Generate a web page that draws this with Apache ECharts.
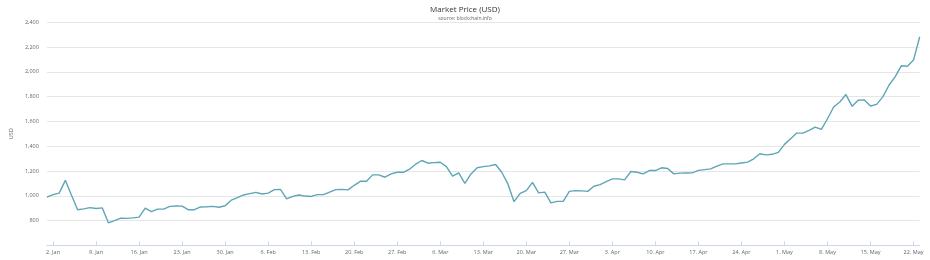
<!DOCTYPE html>
<html>
<head>
<meta charset="utf-8">
<script src="https://cdn.jsdelivr.net/npm/echarts@6/dist/echarts.min.js"></script>
<style>
html,body{margin:0;padding:0;background:#fff;}
#chart{width:930px;height:260px;}
</style>
</head>
<body>
<div id="chart"></div>
<script>
// Daily dates 1 Jan 2017 – 23 May 2017
const startDate = Date.UTC(2017, 0, 1);
const dayCount = 143;
const monthNames = ['Jan','Feb','Mar','Apr','May','Jun','Jul','Aug','Sep','Oct','Nov','Dec'];
const categories = [];
for (let i = 0; i < dayCount; i++) {
  const d = new Date(startDate + i * 86400000);
  categories.push(d.getUTCDate() + '. ' + monthNames[d.getUTCMonth()]);
}

const janValues = [990, 1010, 1022, 1125, 1005, 888, 895, 905, 898, 903, 782, 800, 820, 818, 822, 828, 900, 872, 893, 893, 915, 918, 917, 888, 888, 910, 912, 915, 908, 920, 965];
const febValues = [985, 1007, 1018, 1028, 1015, 1022, 1050, 1052, 975, 995, 1007, 998, 995, 1010, 1010, 1030, 1050, 1052, 1048, 1085, 1117, 1117, 1169, 1169, 1150, 1177, 1190, 1190];
const marValues = [1215, 1255, 1285, 1263, 1268, 1271, 1236, 1158, 1185, 1101, 1177, 1226, 1236, 1242, 1253, 1190, 1096, 953, 1020, 1042, 1109, 1024, 1030, 943, 955, 955, 1036, 1042, 1040, 1036, 1077];
const aprValues = [1090, 1115, 1137, 1137, 1129, 1196, 1190, 1177, 1204, 1204, 1226, 1220, 1177, 1183, 1184, 1185, 1205, 1211, 1217, 1240, 1258, 1258, 1258, 1265, 1272, 1299, 1339, 1330, 1335, 1350];
const mayValues = [1415, 1461, 1506, 1506, 1528, 1555, 1536, 1622, 1717, 1757, 1817, 1722, 1771, 1774, 1725, 1738, 1798, 1892, 1960, 2049, 2046, 2095, 2283];
const priceValues = [].concat(janValues, febValues, marValues, aprValues, mayValues);

const yMin = 600, yMax = 2400, yStep = 200;
const titleText = 'Market Price (USD)';
const subtitleText = 'source: blockchain.info';
const yAxisName = 'USD';

const chart = echarts.init(document.getElementById('chart'), null, {renderer: 'canvas'});
const isMonday = (i) => i % 7 === 1;
chart.setOption({
  animation: false,
  backgroundColor: '#ffffff',
  textStyle: {fontFamily: '"Open Sans", "DejaVu Sans", sans-serif'},
  title: {
    text: titleText,
    subtext: subtitleText,
    left: 'center',
    top: 1,
    itemGap: 2,
    textStyle: {fontSize: 8, fontWeight: 'normal', color: '#333333', fontFamily: '"Open Sans", sans-serif'},
    subtextStyle: {fontSize: 5, color: '#666666', fontFamily: '"Open Sans", sans-serif'}
  },
  grid: {left: 30.7, right: 10.3, top: 22.3, bottom: 14.6, containLabel: false},
  xAxis: {
    type: 'category',
    data: categories,
    boundaryGap: false,
    axisLine: {lineStyle: {color: '#ccd6eb', width: 1}},
    axisTick: {show: true, interval: (i) => isMonday(i), length: 4, inside: true, lineStyle: {color: '#ccd6eb'}},
    axisLabel: {
      interval: (i) => isMonday(i),
      fontSize: 5.5,
      color: '#666666',
      margin: 4
    },
    splitLine: {show: false}
  },
  yAxis: {
    type: 'value',
    min: yMin,
    max: yMax,
    interval: yStep,
    name: yAxisName,
    nameLocation: 'middle',
    nameRotate: 90,
    nameGap: 22,
    nameTextStyle: {fontSize: 5.5, color: '#666666'},
    axisLine: {show: false},
    axisTick: {show: false},
    axisLabel: {
      showMinLabel: false,
      fontSize: 5.5,
      color: '#666666',
      margin: 8,
      formatter: (v) => v.toLocaleString('en-US')
    },
    splitLine: {lineStyle: {color: '#e6e6e6', width: 1}}
  },
  series: [{
    type: 'line',
    data: priceValues,
    showSymbol: false,
    symbol: 'none',
    lineStyle: {color: '#5ea6b6', width: 1.4},
    itemStyle: {color: '#5ea6b6'}
  }]
});
</script>
</body>
</html>
